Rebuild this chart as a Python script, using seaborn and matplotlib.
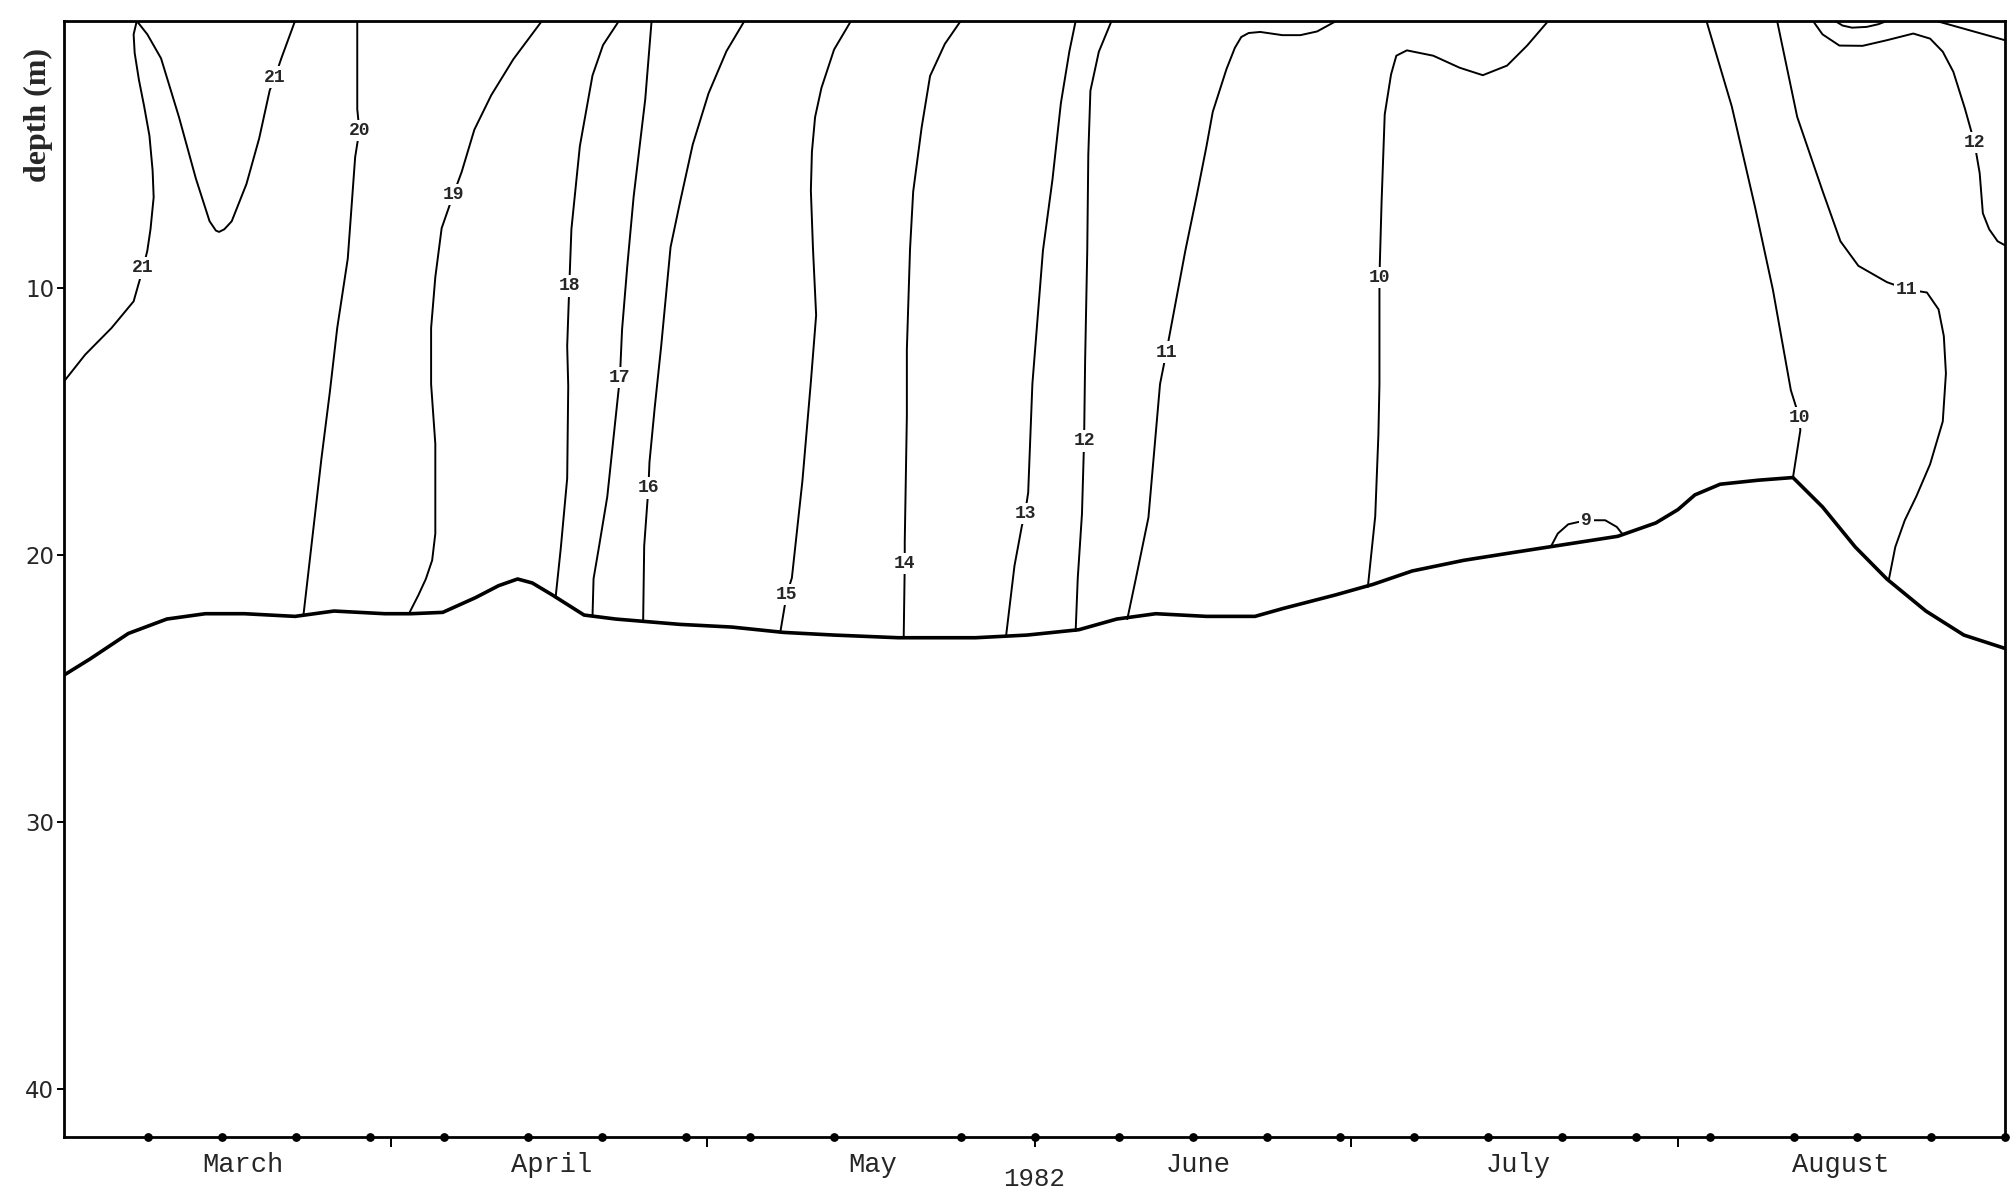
import numpy as np
import pandas as pd
import matplotlib
matplotlib.use("Agg")
import matplotlib.pyplot as plt
import seaborn as sns

# day 0 = 1 March 1982
origin = pd.Timestamp("1982-03-01")

sample_dates = ["1982-03-09", "1982-03-16", "1982-03-23", "1982-03-30", "1982-04-06",
                "1982-04-14", "1982-04-21", "1982-04-29", "1982-05-05", "1982-05-13",
                "1982-05-25", "1982-06-01", "1982-06-09", "1982-06-16", "1982-06-23",
                "1982-06-30", "1982-07-07", "1982-07-14", "1982-07-21", "1982-07-28",
                "1982-08-04", "1982-08-12", "1982-08-18", "1982-08-25", "1982-09-01"]
month_starts = ["1982-04-01", "1982-05-01", "1982-06-01", "1982-07-01", "1982-08-01"]
month_names = ["March", "April", "May", "June", "July", "August"]
month_label_days = [17.0, 46.2, 76.7, 107.5, 137.9, 168.4]

# lake bottom (m)
bottom_day = [0, 2.45, 6.1, 9.75, 13.4, 17.1, 21.9, 25.6, 30.4, 32.9, 35.9, 39.0, 41.2, 43.0, 44.4,
              46.3, 49.3, 52.3, 58.4, 63.3, 68.2, 73.0, 79.1, 86.4, 91.3, 96.2, 99.8, 103.5,
              108.3, 112.9, 115.6, 120.5, 124.1, 127.8, 132.7, 137.5, 142.4, 147.3, 150.9,
              153.0, 154.6, 157.0, 160.6, 163.9, 166.7, 169.8, 172.8, 176.5, 180.1, 184.0]
bottom_depth = [24.5, 23.9, 22.94, 22.4, 22.2, 22.2, 22.3, 22.1, 22.2, 22.2, 22.15, 21.6, 21.15, 20.9, 21.05,
                21.5, 22.25, 22.4, 22.6, 22.7, 22.9, 23.0, 23.1, 23.1, 23.0, 22.8, 22.4, 22.2,
                22.3, 22.3, 22.0, 21.5, 21.1, 20.6, 20.2, 19.9, 19.6, 19.3, 18.8,
                18.3, 17.75, 17.35, 17.2, 17.1, 18.2, 19.7, 20.9, 22.1, 23.0, 23.5]

# isotherms (deg C), traced as day / depth pairs
t21_day = [0.0, 2.0, 4.5, 6.6, 7.5, 7.9, 8.2, 8.5, 8.4, 8.1, 7.6, 7.1, 6.7, 6.6, 6.9, 7.9, 9.2,
           10.9, 12.5, 13.8, 14.4, 14.7, 15.2, 15.9, 17.3, 18.5, 19.5, 20.0, 20.6, 21.9]
t21_depth = [13.5, 12.5, 11.5, 10.5, 9.25, 8.6, 7.8, 6.6, 5.6, 4.3, 3.2, 2.2, 1.2, 0.5, 0.0, 0.5, 1.4,
             3.6, 5.9, 7.5, 7.85, 7.9, 7.8, 7.5, 6.1, 4.4, 2.6, 2.1, 1.4, 0.0]
t20_day = [27.8, 27.8, 28.0, 27.6, 26.9, 25.9, 25.2, 24.4, 23.5, 22.7]
t20_depth = [0.0, 3.3, 4.1, 5.1, 8.9, 11.5, 13.9, 16.4, 19.5, 22.25]
t19_day = [45.3, 42.6, 40.5, 38.9, 37.7, 36.9, 35.8, 35.2, 34.8, 34.8, 35.2, 35.2, 34.9, 34.3, 33.6, 32.7]
t19_depth = [0.0, 1.43, 2.78, 4.07, 5.65, 6.51, 7.76, 9.59, 11.5, 13.6, 15.84, 19.2, 20.2, 20.9, 21.5, 22.2]
t18_day = [52.6, 51.1, 50.1, 48.9, 48.1, 47.9, 47.7, 47.8, 47.7, 47.1, 46.6]
t18_depth = [0.0, 0.9, 2.04, 4.69, 7.8, 9.92, 12.18, 13.67, 17.13, 19.72, 21.6]
t17_day = [55.7, 55.1, 54.0, 53.4, 52.9, 52.7, 52.4, 51.5, 50.7, 50.2, 50.1]
t17_depth = [0.0, 2.93, 6.58, 9.17, 11.57, 13.35, 14.46, 17.82, 19.73, 20.89, 22.3]
t16_day = [64.5, 62.8, 61.1, 59.6, 58.4, 57.5, 56.6, 56.0, 55.5, 55.4, 55.0, 54.9]
t16_depth = [0.0, 1.13, 2.71, 4.63, 6.78, 8.47, 12.22, 14.47, 16.53, 17.49, 19.66, 22.5]
t15_day = [74.6, 73.0, 71.8, 71.2, 70.9, 70.8, 71.0, 71.3, 70.8, 70.0, 69.0, 68.5, 67.9]
t15_depth = [0.0, 1.07, 2.51, 3.6, 4.9, 6.35, 8.52, 11.02, 13.52, 17.22, 20.86, 21.49, 22.9]
t14_day = [85.0, 83.5, 82.1, 81.3, 80.5, 80.2, 79.9, 79.9, 79.7, 79.7, 79.6]
t14_depth = [0.0, 0.86, 2.06, 3.99, 6.39, 8.55, 12.3, 14.8, 19.51, 20.32, 23.1]
t13_day = [95.9, 95.3, 94.5, 93.7, 92.8, 91.8, 91.4, 91.1, 90.8, 90.1, 89.3]
t13_depth = [0.0, 1.15, 3.08, 5.95, 8.6, 13.59, 17.67, 18.44, 18.92, 20.41, 23.05]
t12_day = [99.3, 98.1, 97.3, 97.1, 97.0, 96.8, 96.7, 96.5, 96.1, 95.9]
t12_depth = [0.0, 1.15, 2.61, 5.01, 8.62, 12.7, 15.73, 18.46, 20.87, 22.85]
t11_day = [120.6, 118.8, 117.2, 115.5, 113.4, 112.3, 111.6, 111.0, 110.2, 108.9, 108.3, 107.4, 106.3,
           104.5, 103.9, 102.8, 101.6, 100.8]
t11_depth = [0.0, 0.39, 0.53, 0.53, 0.41, 0.45, 0.6, 1.0, 1.8, 3.4, 4.7, 6.5, 8.6,
             12.4, 13.6, 18.6, 20.9, 22.4]
t10_day = [140.7, 138.7, 136.8, 134.5, 132.3, 129.8, 127.3, 126.3, 125.8, 125.2, 124.9, 124.7, 124.7,
           124.6, 124.3, 123.6]
t10_depth = [0.0, 0.92, 1.67, 2.03, 1.75, 1.3, 1.1, 1.3, 2.0, 3.5, 6.8, 9.6, 13.6,
             15.5, 18.55, 21.2]
t9_day = [141.0, 141.6, 142.6, 144.3, 146.1, 147.2, 147.8]
t9_depth = [19.65, 19.2, 18.85, 18.7, 18.7, 18.95, 19.25]
t10b_day = [155.7, 158.1, 160.3, 162.0, 163.7, 164.5, 164.6, 163.9]
t10b_depth = [0.0, 3.2, 6.96, 10.07, 13.83, 14.84, 15.33, 17.1]
t11b_day = [162.4, 164.3, 166.7, 168.4, 170.1, 172.8, 174.7, 176.6, 177.7, 178.2, 178.4, 178.1,
            176.9, 175.6, 174.5, 173.6, 173.0]
t11b_depth = [0.0, 3.59, 6.36, 8.25, 9.17, 9.78, 10.05, 10.17, 10.8, 11.8, 13.2, 15.0,
              16.6, 17.8, 18.7, 19.7, 20.9]
t12b_day = [165.8, 166.7, 168.3, 170.5, 172.8, 175.3, 176.9, 178.1, 179.1, 180.2, 181.1, 181.6,
            181.9, 182.5, 183.3, 184.0]
t12b_depth = [0.0, 0.5, 0.92, 0.93, 0.72, 0.47, 0.66, 1.15, 1.9, 3.28, 4.55, 5.7,
              7.2, 7.8, 8.25, 8.4]
t13b_day = [167.9, 168.6, 169.5, 170.9, 172.0, 172.8]
t13b_depth = [0.0, 0.17, 0.25, 0.22, 0.12, 0.0]
t13c_day = [177.5, 184.0]
t13c_depth = [0.0, 0.72]

isotherms = [
    ("t21", t21_day, t21_depth), ("t20", t20_day, t20_depth), ("t19", t19_day, t19_depth),
    ("t18", t18_day, t18_depth), ("t17", t17_day, t17_depth), ("t16", t16_day, t16_depth),
    ("t15", t15_day, t15_depth), ("t14", t14_day, t14_depth), ("t13", t13_day, t13_depth),
    ("t12", t12_day, t12_depth), ("t11", t11_day, t11_depth), ("t10", t10_day, t10_depth),
    ("t9", t9_day, t9_depth), ("t10b", t10b_day, t10b_depth), ("t11b", t11b_day, t11b_depth),
    ("t12b", t12b_day, t12b_depth), ("t13b", t13b_day, t13b_depth), ("t13c", t13c_day, t13c_depth),
]

# contour labels: text, day, depth
label_text = ["21", "21", "20", "19", "18", "17", "16", "15", "14", "13", "12", "11", "10", "9",
              "10", "11", "12"]
label_day = [7.5, 20.0, 28.0, 36.9, 47.9, 52.7, 55.4, 68.5, 79.7, 91.1, 96.7, 104.5, 124.7, 144.3,
             164.5, 174.7, 181.1]
label_depth = [9.25, 2.1, 4.1, 6.51, 9.92, 13.35, 17.49, 21.49, 20.32, 18.44, 15.73, 12.4, 9.6, 18.7,
               14.84, 10.05, 4.55]

iso = pd.concat([pd.DataFrame({"line": name, "day": d, "depth": z}) for name, d, z in isotherms],
                ignore_index=True)
sample_day = (pd.to_datetime(sample_dates) - origin).days.values
month_day = (pd.to_datetime(month_starts) - origin).days.values

sns.set_theme(style="white")
plt.rcParams["font.family"] = ["Liberation Mono", "DejaVu Sans"]

W, H = 2013, 1196
fig = plt.figure(figsize=(W / 100, H / 100), dpi=100)
ax = fig.add_axes([64 / W, 1 - 1137 / H, (2005 - 64) / W, (1137 - 21) / H])

sns.lineplot(data=iso, x="day", y="depth", units="line", estimator=None, sort=False,
             color="black", lw=1.4, ax=ax, legend=False, solid_joinstyle="round")
sns.lineplot(x=bottom_day, y=bottom_depth, sort=False, color="black", lw=2.6, ax=ax,
             solid_joinstyle="round")

for txt, d, z in zip(label_text, label_day, label_depth):
    ax.text(d, z, txt, ha="center", va="center", fontsize=13, fontweight="bold",
            family="Liberation Mono", zorder=5,
            bbox=dict(boxstyle="square,pad=0.12", fc="white", ec="none"))

ax.set_xlim(0, 184)
ax.set_ylim(41.8, 0)

# sampling dates along the time axis
ax.scatter(sample_day, np.zeros(len(sample_day)), transform=ax.get_xaxis_transform(),
           s=28, color="black", clip_on=False, zorder=6)

for sp in ax.spines.values():
    sp.set_color("black")
    sp.set_linewidth(2.0)

ax.set_xticks(month_day)
ax.set_xticklabels([""] * len(month_day))
ax.set_xticks(month_label_days, minor=True)
ax.set_xticklabels(month_names, minor=True, fontsize=19.5, family="Liberation Mono")
ax.tick_params(axis="x", which="major", bottom=True, direction="out", length=7, width=1.4,
               color="black")
ax.tick_params(axis="x", which="minor", bottom=True, length=0, pad=10.5)

ax.set_yticks([10, 20, 30, 40])
ax.set_yticklabels(["10", "20", "30", "40"], fontsize=16.5, family="DejaVu Sans")
ax.tick_params(axis="y", left=True, direction="out", length=5, width=1.4, color="black", pad=2)

ax.set_xlabel("1982", fontsize=18.5, family="Liberation Mono")
ax.xaxis.set_label_coords(0.5, -0.0376)
ax.xaxis.label.set_va("center")

ax.set_ylabel("depth (m)", fontsize=23, fontweight="bold", family="Liberation Serif")
ax.yaxis.set_label_coords(-0.0134, 0.916)
ax.yaxis.label.set_va("center")

fig.savefig("out.png", dpi=100, facecolor="white")
